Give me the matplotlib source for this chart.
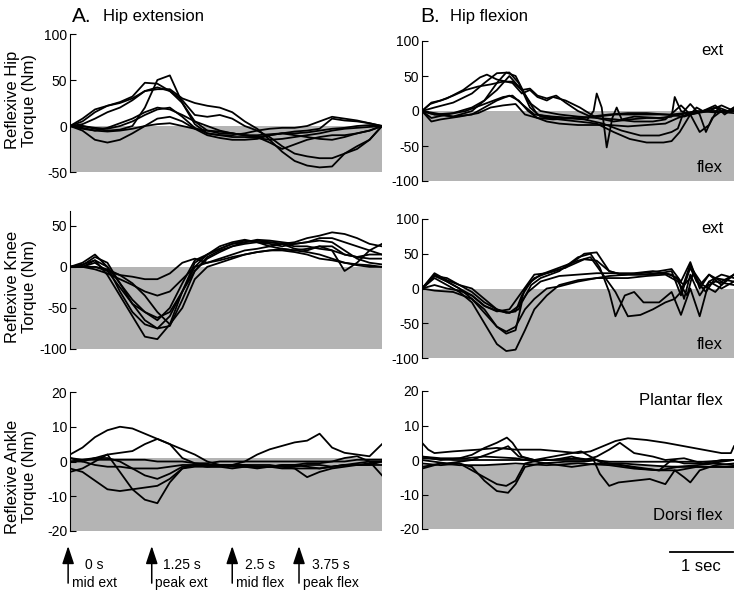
import numpy as np
import matplotlib
matplotlib.use("Agg")
import matplotlib.pyplot as plt

plt.rcParams["font.family"] = ["Liberation Sans", "DejaVu Sans"]
plt.rcParams["axes.unicode_minus"] = False

# column A traces sampled every 0.2 s over the 5 s cycle
t_a = np.arange(26) * 0.2

hip_a = [
    [0, 0, -3, -5, -4, 0, 20, 50, 55, 25, 2, -8, -10, -12, -12, -13, -15, -14, -12, -10, -8, -5, -3, -2, -1, 0],
    [0, 5, 15, 22, 26, 32, 47, 46, 38, 25, 5, -5, -8, -8, -10, -12, -10, -8, -6, -5, -3, 8, 6, 5, 3, 0],
    [0, 8, 18, 22, 25, 30, 38, 40, 40, 30, 25, 22, 20, 15, 5, -3, -15, -28, -38, -43, -45, -44, -30, -22, -15, 0],
    [0, 2, 8, 15, 20, 28, 38, 42, 38, 28, 12, 10, 12, 8, 0, -5, -12, -22, -30, -33, -35, -35, -30, -25, -15, 0],
    [0, -2, -5, -2, 3, 8, 15, 20, 18, 12, 5, 0, -5, -8, -10, -12, -18, -25, -20, -15, -12, -10, -10, -8, -5, 0],
    [0, -5, -15, -18, -15, -8, 0, 8, 10, 5, -3, -10, -13, -15, -15, -14, -10, -8, -10, -12, -14, -15, -12, -8, -5, 0],
    [0, 0, -2, -3, 0, 5, 12, 18, 20, 10, -2, -8, -10, -10, -8, -5, -3, -2, -2, 0, 5, 10, 8, 6, 3, 0],
    [0, -3, -5, -6, -5, -3, 0, 2, 3, 0, -3, -5, -6, -8, -10, -10, -9, -8, -8, -7, -5, -3, -2, 0, 1, 0],
]
knee_a = [
    [0, 0, 8, -10, -35, -60, -85, -88, -70, -30, 0, 15, 22, 28, 30, 32, 30, 28, 25, 25, 22, 20, 15, 12, 10, 10],
    [0, 2, 12, 5, -20, -45, -65, -75, -72, -40, -5, 12, 20, 25, 30, 33, 32, 30, 28, 30, 35, 35, 30, 25, 20, 15],
    [0, 5, 15, 0, -30, -55, -70, -75, -60, -30, 5, 15, 25, 30, 33, 30, 28, 25, 28, 30, 32, 30, 20, 10, 5, 3],
    [0, 0, 5, -5, -25, -45, -55, -62, -55, -30, -5, 10, 18, 25, 28, 30, 30, 28, 22, 20, 25, 20, -5, 5, 20, 28],
    [0, 0, -3, -8, -15, -22, -30, -35, -30, -15, 0, 5, 10, 15, 20, 22, 25, 28, 30, 35, 38, 42, 40, 35, 28, 25],
    [0, 0, 0, -5, -10, -12, -15, -15, -8, 5, 10, 5, 8, 12, 15, 18, 20, 22, 20, 22, 25, 25, 15, 12, 15, 15],
    [0, 3, 8, 0, -20, -40, -55, -65, -50, -20, 8, 15, 22, 28, 32, 30, 25, 22, 20, 18, 15, 10, 5, 2, 0, 0],
    [0, 0, 0, -3, -10, -20, -35, -55, -70, -50, -15, 0, 5, 10, 15, 18, 20, 20, 18, 15, 10, 8, 5, 3, 2, 0],
]
ankle_a = [
    [2, 4, 7, 9, 10, 9.5, 8, 6.5, 5, 3.5, 2, 0, -1, -1, 0, 2, 3.5, 4.5, 5.5, 6, 8, 4, 2.5, 2, 1.5, 5],
    [-3, -2, 0, 2, 2.5, 3, 5, 6.5, 5, 1, -0.5, -1, -1, -1.5, -1.5, -2, -1.5, -1, -1, -0.5, -0.5, 0, 1, 1.5, 0, -4],
    [0, 0, 1, 2, -3, -8, -11, -12, -6, -2, -1, -1.5, -1.5, -1, -1, -1, -1, -1.5, -1.5, -1, -1, -1.5, -1, -0.5, 0, 0],
    [-2, -3, -5.5, -8, -8.5, -8, -7.5, -7, -5, -2, -1.5, -1.5, -1, -1, -1.5, -1.5, -1.5, -1, -1, -1.5, -2, -1.5, -1, -1, -0.5, 0],
    [0, 0.5, 1, 1, 0, -2, -4, -5, -3.5, -1.5, -1, -1, -1, -1, -1, -1.5, -1.5, -1.5, -2, -2, -2, -1.5, -1, -1, -1, -1],
    [1, 0, -1, -1.5, -1.5, -2, -2, -2, -1.5, -1, -1, -1.5, -1.5, -2, -1.5, -1.5, -1.5, -2, -2, -4.5, -3, -2, -1.5, -1, -1, 0],
    [1, 0.5, 0.5, 0.5, 0.5, 0.5, 0.5, 0, 0, 0, -0.5, -0.5, 0, 0, 0, 0, 0, 0, 0, 0, 0, 0, 0, 0.5, 0.5, 0.5],
]

# column B traces as (time s, torque) keypoints
hip_b = [
    [(0, 0), (0.13, 10), (0.4, 18), (0.66, 30), (0.93, 48), (1.04, 52), (1.2, 45), (1.45, 40), (1.6, 25), (1.73, 30), (1.85, 20), (2.0, 15), (2.1, 20), (2.3, 15), (2.53, 5), (2.8, -10), (3.07, -15), (3.33, -12), (3.6, -10), (3.87, -10), (4.13, -5), (4.4, 0), (4.7, -2), (5.0, 0)],
    [(0, 0), (0.2, 5), (0.5, 12), (0.8, 25), (1.0, 40), (1.2, 54), (1.4, 55), (1.55, 40), (1.73, 5), (1.9, -8), (2.2, -12), (2.5, -15), (2.8, -18), (3.07, -30), (3.33, -40), (3.6, -45), (3.87, -45), (4.0, -43), (4.13, -30), (4.3, -5), (4.45, -30), (4.6, -20), (4.75, 5), (4.9, 0), (5.0, 5)],
    [(0, 0), (0.2, -5), (0.5, -3), (0.8, 5), (1.0, 15), (1.2, 40), (1.35, 55), (1.5, 50), (1.7, 15), (1.85, -5), (2.0, -8), (2.3, -10), (2.6, -12), (2.9, -18), (3.2, -28), (3.5, -35), (3.8, -35), (4.0, -30), (4.1, -25), (4.2, 0), (4.3, 10), (4.45, -5), (4.55, -30), (4.65, -10), (4.8, 0), (5.0, 0)],
    [(0, 0), (0.15, -10), (0.4, -5), (0.7, 0), (1.0, 10), (1.3, 20), (1.45, 22), (1.6, 10), (1.8, -5), (2.1, -8), (2.4, -10), (2.65, -12), (2.75, 0), (2.8, 25), (2.88, 5), (2.96, -52), (3.05, -10), (3.12, 5), (3.2, -12), (3.4, -8), (3.8, -10), (4.0, -8), (4.05, 20), (4.15, 0), (4.3, -5), (4.6, 0), (4.8, 8), (5.0, 0)],
    [(0, 0), (0.15, 12), (0.3, 15), (0.5, 22), (0.7, 30), (0.9, 35), (1.1, 38), (1.3, 42), (1.45, 42), (1.6, 30), (1.75, 10), (1.9, 0), (2.2, -5), (2.5, -8), (2.8, -10), (3.1, -12), (3.4, -15), (3.7, -15), (3.9, -12), (4.05, 0), (4.15, 8), (4.3, -5), (4.4, 5), (4.5, 0), (4.7, 5), (4.85, -2), (5.0, 2)],
    [(0, 0), (0.2, -3), (0.5, -8), (0.8, -5), (1.0, 5), (1.2, 15), (1.4, 22), (1.55, 15), (1.7, 0), (1.85, -10), (2.0, -15), (2.2, -18), (2.5, -20), (2.8, -20), (3.0, -20), (3.3, -22), (3.6, -20), (3.9, -18), (4.1, -10), (4.3, -3), (4.6, 0), (5.0, -3)],
    [(0, 0), (0.15, -15), (0.3, -12), (0.6, -8), (0.9, -3), (1.1, 5), (1.3, 8), (1.5, 10), (1.65, -5), (1.85, -10), (2.1, -12), (2.5, -10), (2.8, -8), (3.1, -5), (3.4, -5), (3.7, -5), (4.0, -5), (4.2, -3), (4.5, 0), (5.0, 0)],
    [(0, 0), (0.2, -5), (0.5, -8), (0.8, 0), (1.0, 15), (1.2, 30), (1.4, 50), (1.6, 30), (1.73, 32), (1.85, 22), (2.0, 18), (2.15, 22), (2.3, 12), (2.5, 0), (2.7, -8), (3.0, -5), (3.3, -3), (3.6, -3), (3.9, -5), (4.2, -8), (4.5, 0), (4.7, 8), (4.85, -5), (5.0, 5)],
]
knee_b = [
    [(0, 0), (0.2, 15), (0.4, 5), (0.6, -5), (0.8, -20), (1.0, -50), (1.2, -80), (1.35, -90), (1.5, -88), (1.65, -60), (1.8, -30), (2.0, -10), (2.2, 5), (2.5, 12), (2.8, 15), (3.0, 18), (3.3, 20), (3.6, 20), (3.9, 22), (4.1, 15), (4.2, -15), (4.3, 20), (4.45, -10), (4.6, 10), (4.8, 0), (5.0, 10)],
    [(0, 0), (0.2, 20), (0.4, 10), (0.6, 0), (0.8, -15), (1.0, -35), (1.2, -55), (1.35, -65), (1.5, -60), (1.6, -20), (1.75, 5), (1.9, 15), (2.2, 25), (2.5, 45), (2.7, 50), (2.85, 30), (3.0, -5), (3.1, -40), (3.25, -10), (3.4, -5), (3.55, -20), (3.8, -20), (4.0, -5), (4.15, -38), (4.3, 0), (4.45, -40), (4.6, 10), (4.8, 20), (5.0, 15)],
    [(0, 0), (0.2, 22), (0.4, 12), (0.6, 5), (0.8, -5), (1.0, -20), (1.2, -30), (1.35, -35), (1.5, -33), (1.6, -10), (1.75, 10), (1.9, 20), (2.2, 30), (2.5, 40), (2.7, 45), (2.9, 20), (3.1, -5), (3.3, -40), (3.5, -38), (3.7, -30), (3.9, -20), (4.05, -15), (4.15, -5), (4.3, 35), (4.45, 5), (4.6, 20), (4.8, 5), (5.0, 20)],
    [(0, 0), (0.2, 18), (0.4, 15), (0.6, 5), (0.8, 0), (1.0, -15), (1.2, -30), (1.4, -35), (1.55, -30), (1.65, 0), (1.8, 15), (2.0, 22), (2.3, 30), (2.6, 50), (2.8, 52), (3.0, 25), (3.2, 20), (3.5, 22), (3.8, 25), (4.0, 28), (4.15, 10), (4.3, 38), (4.45, 0), (4.6, 20), (4.8, 10), (5.0, 20)],
    [(0, 0), (0.2, 5), (0.4, 0), (0.6, -3), (0.8, -10), (1.0, -25), (1.2, -32), (1.4, -35), (1.55, -25), (1.7, -5), (1.9, 10), (2.2, 18), (2.5, 20), (2.8, 22), (3.1, 22), (3.4, 22), (3.7, 25), (4.0, 20), (4.2, 5), (4.35, 20), (4.5, 0), (4.7, 10), (5.0, 5)],
    [(0, 0), (0.2, -3), (0.5, -5), (0.8, -15), (1.0, -30), (1.2, -55), (1.35, -62), (1.5, -55), (1.65, -30), (1.8, -15), (2.0, 0), (2.2, 3), (2.5, 10), (2.8, 15), (3.0, 15), (3.3, 15), (3.6, 18), (3.9, 20), (4.1, 10), (4.25, -10), (4.35, 25), (4.5, 5), (4.7, -5), (4.85, 10), (5.0, 20)],
    [(0, 0), (0.2, 18), (0.4, 10), (0.6, 0), (0.8, -10), (1.0, -25), (1.2, -33), (1.4, -30), (1.6, -5), (1.8, 20), (2.0, 22), (2.3, 30), (2.6, 42), (2.8, 40), (3.0, 25), (3.2, 20), (3.5, 20), (3.8, 22), (4.0, 25), (4.15, -10), (4.3, 30), (4.4, 10), (4.55, -5), (4.7, 15), (5.0, 10)],
]
ankle_b = [
    [(0, 5), (0.1, 3), (0.2, 2), (0.5, 2.5), (0.9, 3), (1.2, 3.5), (1.5, 3), (1.9, 3), (2.2, 2.5), (2.5, 2), (2.7, 2.5), (2.9, 4), (3.1, 5.5), (3.3, 6.3), (3.6, 5.8), (3.9, 5), (4.2, 4), (4.5, 3), (4.8, 2), (4.95, 2), (5.0, 4)],
    [(0, 1), (0.3, 0), (0.6, 0.5), (0.8, 1.5), (1.0, 3.5), (1.2, 5), (1.36, 6.5), (1.45, 5), (1.6, 1), (1.8, 0), (2.1, 1), (2.4, 2), (2.55, 2.5), (2.7, 1), (2.9, -1), (3.2, -1.5), (3.5, -2.5), (3.8, -3), (4.1, -2), (4.4, -1.5), (4.7, -1), (5.0, -1.5)],
    [(0, 0), (0.4, -1), (0.8, 0), (1.1, 2), (1.38, 4), (1.55, 1), (1.8, 0), (2.1, 0), (2.4, 1), (2.6, 0), (2.8, 1), (3.0, 3), (3.17, 5), (3.4, 2), (3.7, 1), (3.9, 0), (4.2, 0.5), (4.5, -1), (4.8, 0), (5.0, 0)],
    [(0, -2), (0.3, -1), (0.6, -1), (0.8, -2), (1.0, -6), (1.2, -9), (1.38, -9.5), (1.5, -7), (1.65, -2), (1.9, -1), (2.3, -0.5), (2.6, -0.5), (2.8, 0), (3.0, -1), (3.4, -2), (3.8, -3), (4.1, -3), (4.4, -2), (4.7, -2), (5.0, -2)],
    [(0, -1), (0.3, -1.5), (0.6, -1), (0.8, -3), (1.0, -5), (1.2, -7), (1.35, -7.5), (1.5, -6), (1.65, -1), (1.9, 0), (2.2, 0), (2.5, 0), (2.75, 0), (2.85, -4), (3.0, -7.5), (3.15, -6.5), (3.4, -6), (3.65, -5.5), (3.9, -7), (4.05, -3), (4.2, -5), (4.3, -6.5), (4.45, -3), (4.7, -1.5), (5.0, -1)],
    [(0, 0.5), (0.5, 0), (1.0, 0), (1.5, 0), (2.0, 0), (2.5, 0.5), (3.0, -0.5), (3.5, -0.5), (4.0, -0.5), (4.5, -0.5), (5.0, 0)],
    [(0, -2.5), (0.3, -1), (0.6, -1.5), (1.0, -1.5), (1.5, -1), (2.0, -1.5), (2.5, -1), (3.0, -1.5), (3.4, -2.5), (3.8, -3), (4.0, 0), (4.2, -1), (4.6, -1), (5.0, 0)],
    [(0, 1), (0.3, 0.5), (0.7, 0.5), (1.0, 1), (1.5, 0.5), (2.0, -1), (2.4, -2), (2.8, -1), (3.2, -1), (3.6, -1.5), (4.0, -2), (4.5, -2), (5.0, -2)],
]

ylabels = ["Reflexive Hip\nTorque (Nm)", "Reflexive Knee\nTorque (Nm)", "Reflexive Ankle\nTorque (Nm)"]
label_y = [0.52, 0.45, 0.39]
event_t = [-0.03, 1.31, 2.60, 3.67]
event_lbl = ["0 s\nmid ext", "1.25 s\npeak ext", "2.5 s\nmid flex", "3.75 s\npeak flex"]
gray = "#b4b4b4"

W, H = 734, 602
fig = plt.figure(figsize=(W / 100, H / 100), dpi=100)

def px_ax(x0, x1, ytop, ybot):
    return fig.add_axes([x0 / W, 1 - ybot / H, (x1 - x0) / W, (ybot - ytop) / H])

# (axes pixel box, ylim, ticks, top of grey band, traces, column)
panels = [
    ((70, 382, 34, 172), (-50, 100), [-50, 0, 50, 100], 0, hip_a, "A"),
    ((70, 382, 211, 349), (-100, 68), [-100, -50, 0, 50], 0, knee_a, "A"),
    ((70, 382, 392, 531), (-20, 20), [-20, -10, 0, 10, 20], 1, ankle_a, "A"),
    ((422, 734, 41, 181), (-100, 100), [-100, -50, 0, 50, 100], 0, hip_b, "B"),
    ((422, 734, 219, 358), (-100, 100), [-100, -50, 0, 50, 100], 0, knee_b, "B"),
    ((422, 734, 391, 529), (-20, 20), [-20, -10, 0, 10, 20], -1.5, ankle_b, "B"),
]

axes = []
for i, (box, ylim, ticks, gtop, traces, col) in enumerate(panels):
    ax = px_ax(*box)
    ax.fill_between([0, 5], ylim[0], gtop, color=gray, lw=0, zorder=0)
    for tr in traces:
        if col == "A":
            ax.plot(t_a, tr, color="black", lw=1.3)
        else:
            tt, yy = zip(*tr)
            ax.plot(tt, yy, color="black", lw=1.3)
    ax.set_xlim(0, 5)
    ax.set_ylim(*ylim)
    ax.set_yticks(ticks)
    ax.tick_params(axis="y", direction="in", length=4, labelsize=10, pad=2)
    ax.set_xticks([])
    ax.spines[["top", "right", "bottom"]].set_visible(False)
    ax.patch.set_alpha(0)
    if col == "A":
        ax.set_ylabel(ylabels[i], fontsize=12)
        ax.yaxis.set_label_coords(-0.105, label_y[i])
    axes.append(ax)

fig.text(72 / W, 1 - 16 / H, "A.", fontsize=15, va="center")
fig.text(103 / W, 1 - 16 / H, "Hip extension", fontsize=12, va="center")
fig.text(420 / W, 1 - 16 / H, "B.", fontsize=15, va="center")
fig.text(450 / W, 1 - 16 / H, "Hip flexion", fontsize=12, va="center")

side = [("ext", "flex"), ("ext", "flex"), ("Plantar flex", "Dorsi flex")]
for ax, (top, bot) in zip(axes[3:], side):
    ax.text(0.965, 0.93, top, transform=ax.transAxes, ha="right", va="center", fontsize=12)
    ax.text(0.965, 0.1, bot, transform=ax.transAxes, ha="right", va="center", fontsize=12)

# phase markers under the ankle panel of column A
axa = axes[2]
tr = axa.get_xaxis_transform()
for t, lbl in zip(event_t, event_lbl):
    axa.annotate("", xy=(t, -0.108), xytext=(t, -0.375), xycoords=tr, textcoords=tr,
                 arrowprops=dict(arrowstyle="-|>,head_length=0.9,head_width=0.3", color="black",
                                 lw=1.1, mutation_scale=12, shrinkA=0, shrinkB=0))
    axa.text(t + 0.06, -0.31, lbl, transform=tr, ha="left", va="center", fontsize=10,
             multialignment="center", linespacing=1.35)

# 1 s scale bar
axb = axes[5]
trb = axb.get_xaxis_transform()
axb.plot([3.97, 4.98], [-0.167, -0.167], transform=trb, color="black", lw=1.3, clip_on=False)
axb.text(4.47, -0.275, "1 sec", transform=trb, ha="center", va="center", fontsize=12)

fig.savefig("out.png", dpi=100)
